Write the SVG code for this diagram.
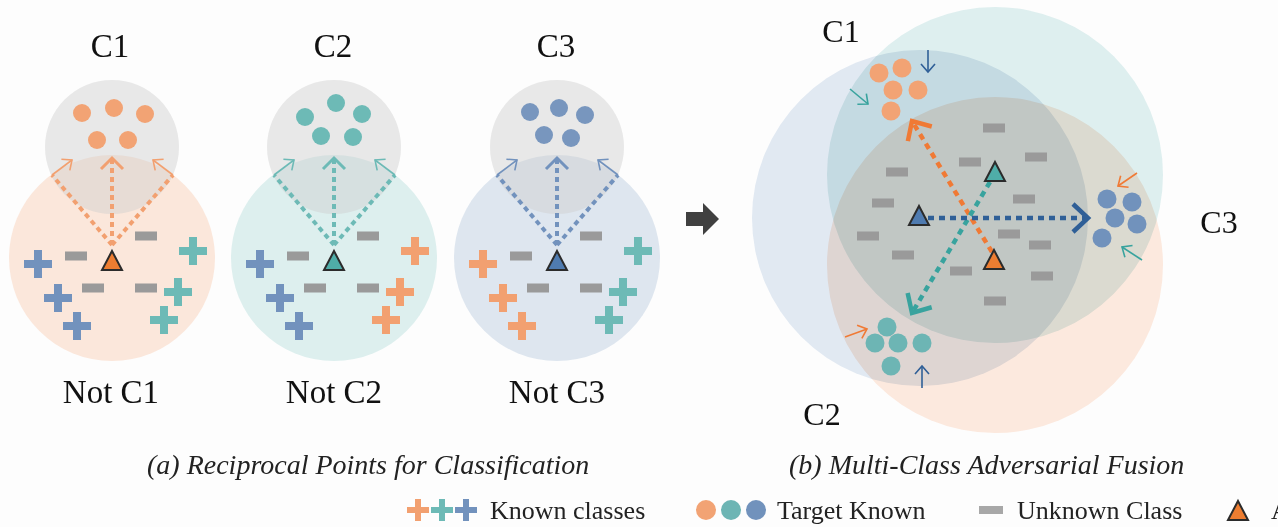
<svg xmlns="http://www.w3.org/2000/svg" xmlns:xlink="http://www.w3.org/1999/xlink" width="1278" height="527" viewBox="0 0 1278 527">
<style>
.lbl{font-family:"Liberation Serif","Times New Roman",serif;font-size:33px;fill:#111;text-anchor:middle}
.lblR{font-family:"Liberation Serif","Times New Roman",serif;font-size:32px;fill:#111;text-anchor:middle}
.cap{font-family:"Liberation Serif","Times New Roman",serif;font-size:28px;font-style:italic;fill:#222}
.leg{font-family:"Liberation Serif","Times New Roman",serif;font-size:26px;fill:#222}
.bar{fill:#9a9a9a}
.tri{stroke:#2b2b2b;stroke-width:2;stroke-linejoin:miter}
.gray{fill:#cfcfcf;fill-opacity:0.45}
.dashA{fill:none;stroke-width:4;stroke-dasharray:5 4}
.dashB{fill:none;stroke-width:4.5;stroke-dasharray:6 5}
.thin{fill:none;stroke-width:1.6}
.big{mix-blend-mode:multiply}
</style>
<defs>
<path id="plus" d="M-4,-14h8v10h10v8h-10v10h-8v-10h-10v-8h10z"/>
<path id="plusS" d="M-3,-11h6v8h8v6h-8v8h-6v-8h-8v-6h8z"/>
<rect id="bar" x="-11" y="-4.5" width="22" height="9"/>
<path id="tri" d="M0,-10 L10,9 L-10,9 Z"/>
<marker id="cA_o" viewBox="-15 -15 30 30" markerWidth="30" markerHeight="30" refX="0" refY="0" orient="auto" markerUnits="userSpaceOnUse"><path d="M-11,-11 L0,0 L-11,11" fill="none" stroke="#F2A070" stroke-width="3"/></marker>
<marker id="cA_t" viewBox="-15 -15 30 30" markerWidth="30" markerHeight="30" refX="0" refY="0" orient="auto" markerUnits="userSpaceOnUse"><path d="M-11,-11 L0,0 L-11,11" fill="none" stroke="#6DBAB6" stroke-width="3"/></marker>
<marker id="cA_b" viewBox="-15 -15 30 30" markerWidth="30" markerHeight="30" refX="0" refY="0" orient="auto" markerUnits="userSpaceOnUse"><path d="M-11,-11 L0,0 L-11,11" fill="none" stroke="#7292BD" stroke-width="3"/></marker>
<marker id="sA_o" viewBox="-10 -10 20 20" markerWidth="20" markerHeight="20" refX="0" refY="0" orient="auto" markerUnits="userSpaceOnUse"><path d="M-8,-7 L0,0 L-8,7" fill="none" stroke="#F2A070" stroke-width="1.6"/></marker>
<marker id="sA_t" viewBox="-10 -10 20 20" markerWidth="20" markerHeight="20" refX="0" refY="0" orient="auto" markerUnits="userSpaceOnUse"><path d="M-8,-7 L0,0 L-8,7" fill="none" stroke="#6DBAB6" stroke-width="1.6"/></marker>
<marker id="sA_b" viewBox="-10 -10 20 20" markerWidth="20" markerHeight="20" refX="0" refY="0" orient="auto" markerUnits="userSpaceOnUse"><path d="M-8,-7 L0,0 L-8,7" fill="none" stroke="#7292BD" stroke-width="1.6"/></marker>
<marker id="cB_o" viewBox="-20 -20 40 40" markerWidth="40" markerHeight="40" refX="0" refY="0" orient="auto" markerUnits="userSpaceOnUse"><path d="M-15,-14 L0,0 L-15,14" fill="none" stroke="#F07A35" stroke-width="4.5"/></marker>
<marker id="cB_t" viewBox="-20 -20 40 40" markerWidth="40" markerHeight="40" refX="0" refY="0" orient="auto" markerUnits="userSpaceOnUse"><path d="M-15,-14 L0,0 L-15,14" fill="none" stroke="#38A39E" stroke-width="4.5"/></marker>
<marker id="cB_b" viewBox="-20 -20 40 40" markerWidth="40" markerHeight="40" refX="0" refY="0" orient="auto" markerUnits="userSpaceOnUse"><path d="M-15,-14 L0,0 L-15,14" fill="none" stroke="#2F5F97" stroke-width="4.5"/></marker>
<marker id="tB_o" viewBox="-10 -10 20 20" markerWidth="20" markerHeight="20" refX="0" refY="0" orient="auto" markerUnits="userSpaceOnUse"><path d="M-8,-7 L0,0 L-8,7" fill="none" stroke="#F07A35" stroke-width="1.6"/></marker>
<marker id="tB_t" viewBox="-10 -10 20 20" markerWidth="20" markerHeight="20" refX="0" refY="0" orient="auto" markerUnits="userSpaceOnUse"><path d="M-8,-7 L0,0 L-8,7" fill="none" stroke="#38A39E" stroke-width="1.6"/></marker>
<marker id="tB_b" viewBox="-10 -10 20 20" markerWidth="20" markerHeight="20" refX="0" refY="0" orient="auto" markerUnits="userSpaceOnUse"><path d="M-8,-7 L0,0 L-8,7" fill="none" stroke="#2F5F97" stroke-width="1.6"/></marker>
</defs>
<rect width="1278" height="527" fill="#fdfdfd"/>

<!-- Panel a1 -->
<g id="panel-c1">
<circle cx="112" cy="258" r="103" fill="#fbe7db"/>
<circle class="gray" cx="112" cy="147" r="67"/>
<g fill="#F2A374"><circle cx="82" cy="113" r="9"/><circle cx="114" cy="108" r="9"/><circle cx="145" cy="114" r="9"/><circle cx="97" cy="140" r="9"/><circle cx="128" cy="140" r="9"/></g>
<g class="bar"><use href="#bar" x="146" y="236"/><use href="#bar" x="76" y="256"/><use href="#bar" x="93" y="288"/><use href="#bar" x="146" y="288"/></g>
<g fill="#7292BD"><use href="#plus" x="38" y="264"/><use href="#plus" x="58" y="298"/><use href="#plus" x="77" y="326"/></g>
<g fill="#6DBAB6"><use href="#plus" x="193" y="251"/><use href="#plus" x="178" y="292"/><use href="#plus" x="164" y="320"/></g>
<text class="lbl" x="110" y="57">C1</text>
<text class="lbl" x="111" y="403">Not C1</text>
</g>

<!-- Panel a2 -->
<g id="panel-c2">
<circle cx="334" cy="258" r="103" fill="#ddefee"/>
<circle class="gray" cx="334" cy="147" r="67"/>
<g fill="#6DBAB6"><circle cx="305" cy="117" r="9"/><circle cx="336" cy="103" r="9"/><circle cx="362" cy="114" r="9"/><circle cx="321" cy="136" r="9"/><circle cx="353" cy="137" r="9"/></g>
<g class="bar"><use href="#bar" x="368" y="236"/><use href="#bar" x="298" y="256"/><use href="#bar" x="315" y="288"/><use href="#bar" x="368" y="288"/></g>
<g fill="#7292BD"><use href="#plus" x="260" y="264"/><use href="#plus" x="280" y="298"/><use href="#plus" x="299" y="326"/></g>
<g fill="#F2A070"><use href="#plus" x="415" y="251"/><use href="#plus" x="400" y="292"/><use href="#plus" x="386" y="320"/></g>
<text class="lbl" x="333" y="57">C2</text>
<text class="lbl" x="334" y="403">Not C2</text>
</g>

<!-- Panel a3 -->
<g id="panel-c3">
<circle cx="557" cy="258" r="103" fill="#dee6ef"/>
<circle class="gray" cx="557" cy="147" r="67"/>
<g fill="#7896BE"><circle cx="530" cy="112" r="9"/><circle cx="559" cy="108" r="9"/><circle cx="585" cy="115" r="9"/><circle cx="544" cy="135" r="9"/><circle cx="571" cy="138" r="9"/></g>
<g class="bar"><use href="#bar" x="591" y="236"/><use href="#bar" x="521" y="256"/><use href="#bar" x="538" y="288"/><use href="#bar" x="591" y="288"/></g>
<g fill="#F2A070"><use href="#plus" x="483" y="264"/><use href="#plus" x="503" y="298"/><use href="#plus" x="522" y="326"/></g>
<g fill="#6DBAB6"><use href="#plus" x="638" y="251"/><use href="#plus" x="623" y="292"/><use href="#plus" x="609" y="320"/></g>
<text class="lbl" x="556" y="57">C3</text>
<text class="lbl" x="557" y="403">Not C3</text>
</g>

<!-- Right panel circles -->
<g id="fusion-regions" style="isolation:isolate">
<circle class="big" cx="920" cy="218" r="168" fill="#e1e9f2"/>
<circle class="big" cx="995" cy="175" r="168" fill="#deefef"/>
<circle class="big" cx="995" cy="265" r="168" fill="#fce9de"/>
</g>
<g id="fusion-unknown" class="bar">
<use href="#bar" x="994" y="128"/><use href="#bar" x="1036" y="157"/><use href="#bar" x="970" y="162"/><use href="#bar" x="897" y="172"/><use href="#bar" x="883" y="203"/><use href="#bar" x="1024" y="199"/><use href="#bar" x="868" y="236"/><use href="#bar" x="1009" y="234"/><use href="#bar" x="1040" y="245"/><use href="#bar" x="903" y="255"/><use href="#bar" x="961" y="271"/><use href="#bar" x="1042" y="276"/><use href="#bar" x="995" y="301"/>
</g>
<g id="cluster-c1" fill="#F2A374"><circle cx="879" cy="73" r="9.5"/><circle cx="902" cy="68" r="9.5"/><circle cx="893" cy="90" r="9.5"/><circle cx="918" cy="90" r="9.5"/><circle cx="891" cy="111" r="9.5"/></g>
<g id="cluster-c2" fill="#6DB5B4"><circle cx="887" cy="327" r="9.5"/><circle cx="875" cy="343" r="9.5"/><circle cx="898" cy="343" r="9.5"/><circle cx="922" cy="343" r="9.5"/><circle cx="891" cy="366" r="9.5"/></g>
<g id="cluster-c3" fill="#7192BC"><circle cx="1107" cy="199" r="9.5"/><circle cx="1132" cy="202" r="9.5"/><circle cx="1115" cy="218" r="9.5"/><circle cx="1137" cy="224" r="9.5"/><circle cx="1102" cy="238" r="9.5"/></g>

<!-- Connectors -->
<g id="connectors">
<path class="dashA" stroke="#F2A070" d="M112,245 L52,175 M112,245 L173,175"/>
<path class="dashA" stroke="#F2A070" d="M112,245 L112,158" marker-end="url(#cA_o)"/>
<path class="thin" stroke="#F2A070" d="M52,175 L72,160" marker-end="url(#sA_o)"/>
<path class="thin" stroke="#F2A070" d="M173,175 L153,160" marker-end="url(#sA_o)"/>

<path class="dashA" stroke="#6DBAB6" d="M334,245 L274,175 M334,245 L395,175"/>
<path class="dashA" stroke="#6DBAB6" d="M334,245 L334,158" marker-end="url(#cA_t)"/>
<path class="thin" stroke="#6DBAB6" d="M274,175 L294,160" marker-end="url(#sA_t)"/>
<path class="thin" stroke="#6DBAB6" d="M395,175 L375,160" marker-end="url(#sA_t)"/>

<path class="dashA" stroke="#7292BD" d="M557,245 L497,175 M557,245 L618,175"/>
<path class="dashA" stroke="#7292BD" d="M557,245 L557,158" marker-end="url(#cA_b)"/>
<path class="thin" stroke="#7292BD" d="M497,175 L517,160" marker-end="url(#sA_b)"/>
<path class="thin" stroke="#7292BD" d="M618,175 L598,160" marker-end="url(#sA_b)"/>

<path class="dashB" stroke="#F07A35" d="M992,252 L912,121" marker-end="url(#cB_o)"/>
<path class="dashB" stroke="#38A39E" d="M990,182 L912,313" marker-end="url(#cB_t)"/>
<path class="dashB" stroke="#2F5F97" d="M928,218 L1088,218" marker-end="url(#cB_b)"/>

<path class="thin" stroke="#2F5F97" d="M928,50 L928,72" marker-end="url(#tB_b)"/>
<path class="thin" stroke="#38A39E" d="M850,89 L868,104" marker-end="url(#tB_t)"/>
<path class="thin" stroke="#F07A35" d="M1137,173 L1118,186" marker-end="url(#tB_o)"/>
<path class="thin" stroke="#38A39E" d="M1142,260 L1122,247" marker-end="url(#tB_t)"/>
<path class="thin" stroke="#F07A35" d="M845,337 L867,329" marker-end="url(#tB_o)"/>
<path class="thin" stroke="#2F5F97" d="M922,388 L922,366" marker-end="url(#tB_b)"/>
</g>

<!-- Anchors (triangles) -->
<g id="anchors">
<use href="#tri" class="tri" x="112" y="261" fill="#ED7D31"/>
<use href="#tri" class="tri" x="334" y="261" fill="#4FADA8"/>
<use href="#tri" class="tri" x="557" y="261" fill="#4F7BB0"/>
<use href="#tri" class="tri" x="995" y="172" fill="#4FADA8"/>
<use href="#tri" class="tri" x="919" y="216" fill="#4F7BB0"/>
<use href="#tri" class="tri" x="994" y="260" fill="#ED7D31"/>
</g>

<g id="fusion-labels">
<text class="lblR" x="841" y="42">C1</text>
<text class="lblR" x="822" y="425">C2</text>
<text class="lblR" x="1219" y="233">C3</text>
</g>

<g id="transition-arrow"><path d="M686,212 H703 V203 L719,219 L703,235 V226 H686 Z" fill="#404040"/></g>

<g id="captions">
<text class="cap" x="147" y="474">(a) Reciprocal Points for Classification</text>
<text class="cap" x="789" y="474">(b) Multi-Class Adversarial Fusion</text>
</g>

<g id="legend">
<use href="#plusS" x="418" y="510" fill="#F2A070"/>
<use href="#plusS" x="442" y="510" fill="#6DBAB6"/>
<use href="#plusS" x="466" y="510" fill="#7292BD"/>
<text class="leg" x="490" y="519">Known classes</text>
<circle cx="706" cy="510" r="10" fill="#F2A374"/>
<circle cx="731" cy="510" r="10" fill="#6DB5B4"/>
<circle cx="756" cy="510" r="10" fill="#7192BC"/>
<text class="leg" x="777" y="519">Target Known</text>
<rect x="979" y="506" width="24" height="8" fill="#a8a8a8"/>
<text class="leg" x="1017" y="519">Unknown Class</text>
<use href="#tri" class="tri" x="1238" y="511" fill="#ED7D31"/>
<text class="leg" x="1271" y="519">A</text>
</g>
</svg>
